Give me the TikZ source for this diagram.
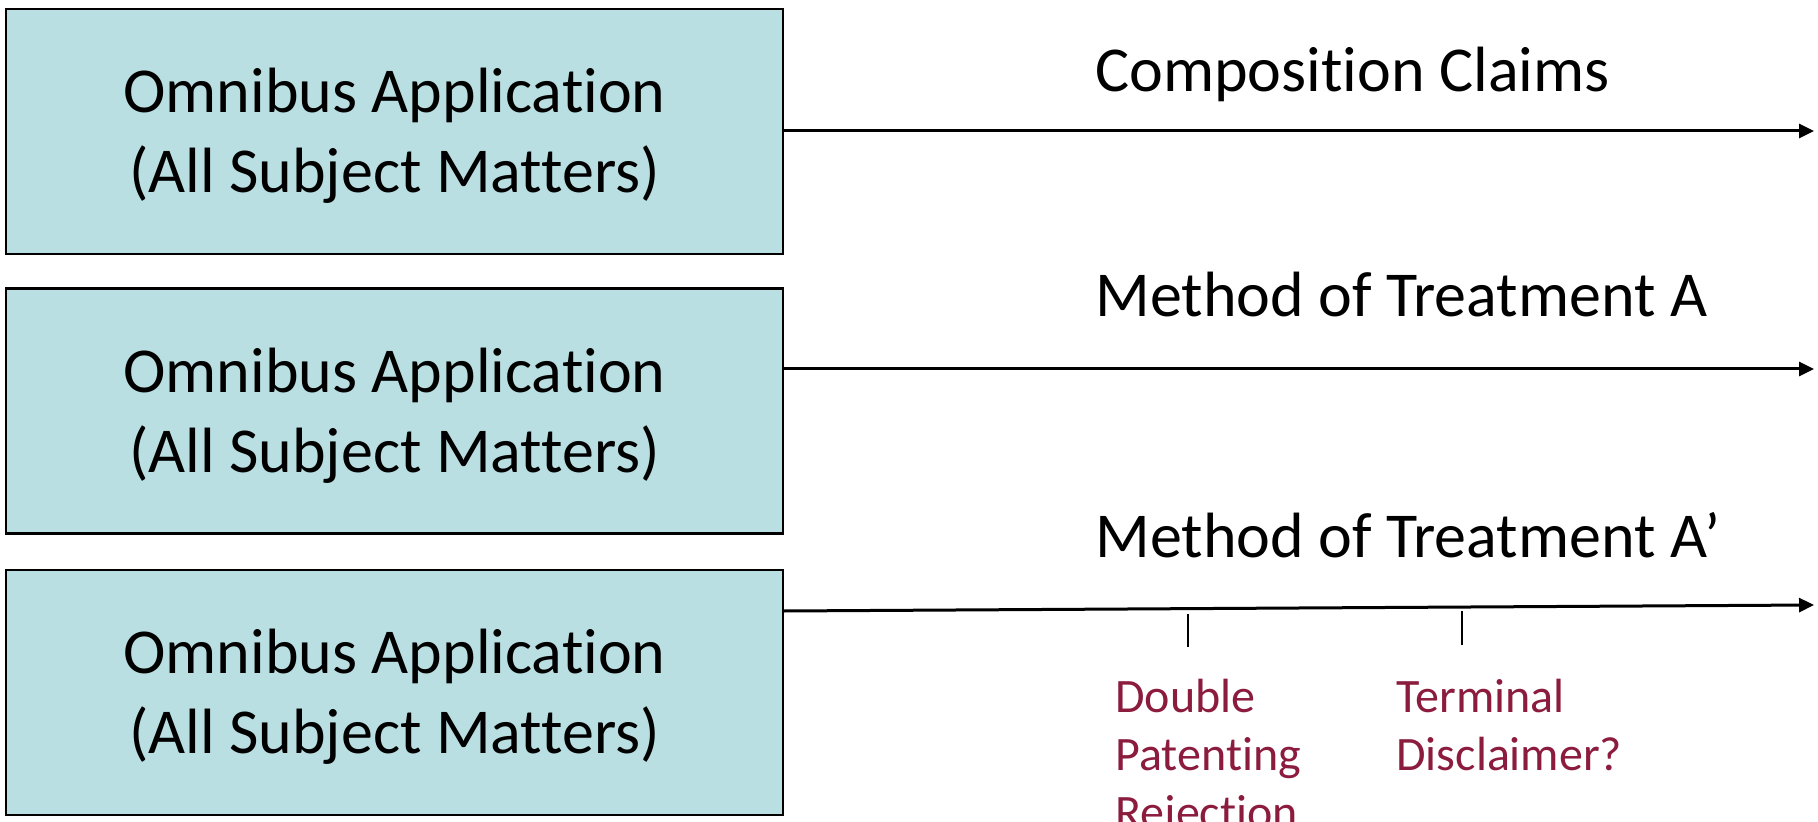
\documentclass[tikz,border=0pt]{standalone}
\usepackage{fontspec}
\setmainfont{Carlito}[Ligatures=CommonOff]
\usetikzlibrary{arrows.meta}

\definecolor{appfill}{RGB}{185,223,226}
\definecolor{notered}{RGB}{140,28,62}

\begin{document}
\begin{tikzpicture}[
      x=0.5pt, y=-0.5pt,
      appbox/.style={
         rectangle,
         draw=black,
         fill=appfill,
         line width=1.2pt,
         inner sep=0pt,
         minimum width=388.5pt,
         minimum height=122.5pt,
         align=center,
         text depth=1pt,
         font=\fontsize{32}{40}\selectfont},
      claimtext/.style={
         anchor=base west,
         inner sep=0pt,
         font=\fontsize{32}{39}\selectfont},
      notetext/.style={
         anchor=base west,
         inner sep=0pt,
         align=left,
         text=notered,
         font=\fontsize{24}{29}\selectfont},
      myarrow/.style={-{Triangle[length=7.5pt,width=7pt]}, line width=1.5pt},
      mytick/.style={line width=0.9pt}
      ]
      \path[use as bounding box, clip] (0,0) rectangle (1818,822);
      \node[appbox] (b1) at (394.5,131.5) {Omnibus Application\\(All Subject Matters)};
      \node[appbox] (b2) at (394.5,411) {Omnibus Application\\(All Subject Matters)};
      \node[appbox] (b3) at (394.5,692.5) {Omnibus Application\\(All Subject Matters)};
      \node[claimtext] (c1) at (1095,92) {Composition Claims};
      \node[claimtext] (c2) at (1095,317) {Method of Treatment A};
      \node[claimtext] (c3) at (1095,558) {Method of Treatment A’};
      % base anchor sits on the last line
      \node[notetext] (n1) at (1115,828) {Double\\Patenting\\Rejection};
      \node[notetext] (n2) at (1396,770) {Terminal\\Disclaimer?};
      % arrow heads at the right edge
      \coordinate (e1) at (1814,131);
      \coordinate (e2) at (1814,369);
      \coordinate (e3) at (1814,605);
    \foreach \i/\y in {1/131, 2/369, 3/611}
       \draw [myarrow] (b\i.east |- 0,\y) -- (e\i);
      % ticks under the last line
      \coordinate (t1a) at (1188,614);
      \coordinate (t1b) at (1188,647);
      \coordinate (t2a) at (1462,611);
      \coordinate (t2b) at (1462,645);
      \draw [mytick] (t1a) -- (t1b);
      \draw [mytick] (t2a) -- (t2b);
\end{tikzpicture}
\end{document}
